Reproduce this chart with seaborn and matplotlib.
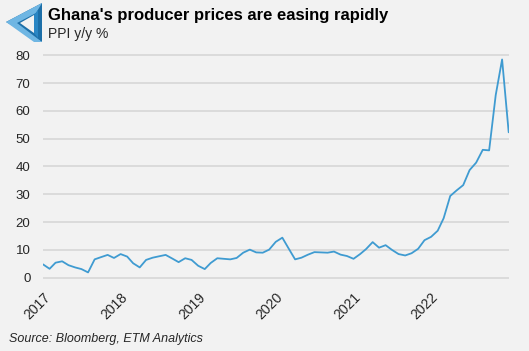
import matplotlib.pyplot as plt
import matplotlib.patches as mpatches
import pandas as pd
import seaborn as sns

# Inputs
TITLE = "Ghana's producer prices are easing rapidly"
SUBTITLE = "PPI y/y %"
SOURCE = "Source: Bloomberg, ETM Analytics"
START_MONTH = "2017-01-01"
PPI_YY = [4.8, 3.2, 5.4, 5.9, 4.5, 3.7, 3.1, 1.9, 6.6, 7.4, 8.2, 7.1,
          8.5, 7.6, 5.2, 3.7, 6.4, 7.2, 7.7, 8.2, 6.9, 5.6, 7.0, 6.4,
          4.3, 3.1, 5.3, 7.0, 6.8, 6.6, 7.1, 9.0, 10.1, 9.1, 9.0, 10.1,
          12.9, 14.4, 10.6, 6.6, 7.2, 8.3, 9.2, 9.1, 9.0, 9.4, 8.3, 7.8,
          6.8, 8.5, 10.3, 12.8, 10.8, 11.7, 10.0, 8.5, 8.0, 8.8, 10.4, 13.5,
          14.7, 16.9, 21.4, 29.4, 31.4, 33.3, 38.7, 41.4, 46.0, 45.8, 65.7, 78.5,
          52.3]
Y_TICKS = [0, 10, 20, 30, 40, 50, 60, 70, 80]
YEAR_TICKS = ["2017", "2018", "2019", "2020", "2021", "2022"]
# Outputs
PATH_PLOT = "out.png"

BG = "#f2f2f2"
LINE_COLOR = "#3f9bd1"
TEXT_COLOR = "#262626"


def draw_logo(fig):
    # rough impossible-triangle logo, in pixel coords of the 529x351 figure
    def pts(seq):
        return [(x / 529, 1 - y / 351) for x, y in seq]
    outer = pts([(6, 22), (42, 3), (42, 42)])
    fig.patches.append(mpatches.Polygon(outer, closed=True, transform=fig.transFigure,
                                        facecolor="#1d6fa8", edgecolor="none"))
    band = pts([(6, 22), (42, 3), (36, 13), (17, 23), (42, 42), (34, 42)])
    fig.patches.append(mpatches.Polygon(band, closed=True, transform=fig.transFigure,
                                        facecolor="#6fb6e3", edgecolor="none"))
    inner = pts([(20, 23), (34, 15), (34, 33)])
    fig.patches.append(mpatches.Polygon(inner, closed=True, transform=fig.transFigure,
                                        facecolor=BG, edgecolor="none"))
    edge = pts([(34, 15), (38, 10), (38, 38), (34, 33)])
    fig.patches.append(mpatches.Polygon(edge, closed=True, transform=fig.transFigure,
                                        facecolor="#2a86c4", edgecolor="none"))


def main():
    months = pd.date_range(START_MONTH, periods=len(PPI_YY), freq="MS")
    df = pd.DataFrame({"month": months, "ppi": PPI_YY})

    sns.set_theme(style="white")
    plt.rcParams["font.family"] = ["Liberation Sans", "DejaVu Sans"]

    fig = plt.figure(figsize=(5.29, 3.51), dpi=100, facecolor=BG)
    ax = fig.add_axes([0.0813, 0.2009, 0.9616 - 0.0813, 0.8504 - 0.2009])
    ax.set_facecolor(BG)

    sns.lineplot(data=df, x="month", y="ppi", ax=ax, color=LINE_COLOR, linewidth=1.3)

    ax.set_xlim(months[0], months[-1])
    ax.set_ylim(-1, 81)
    ax.set_yticks(Y_TICKS)
    ax.set_yticklabels([str(v) for v in Y_TICKS], fontsize=9.5, color=TEXT_COLOR)
    year_pos = [pd.Timestamp(y + "-01-01") for y in YEAR_TICKS]
    ax.set_xticks(year_pos)
    ax.set_xticklabels(YEAR_TICKS, rotation=45, ha="right", rotation_mode="anchor",
                       fontsize=10, color=TEXT_COLOR)
    ax.tick_params(axis="both", length=0)
    ax.tick_params(axis="y", pad=9)
    ax.tick_params(axis="x", pad=7)
    ax.set_xlabel("")
    ax.set_ylabel("")
    ax.grid(axis="y", color="#d9d9d9", linewidth=1.3)
    ax.grid(axis="x", visible=False)
    ax.set_axisbelow(True)
    sns.despine(ax=ax, left=True, bottom=True)

    draw_logo(fig)
    fig.text(48 / 529, 1 - 20 / 351, TITLE, fontsize=12, fontweight="bold",
             color="black", va="baseline")
    fig.text(48 / 529, 1 - 38 / 351, SUBTITLE, fontsize=10, color=TEXT_COLOR,
             va="baseline")
    fig.text(9 / 529, 1 - 342 / 351, SOURCE, fontsize=9, style="italic",
             color=TEXT_COLOR, va="baseline")

    fig.savefig(PATH_PLOT, dpi=100, facecolor=BG)


if __name__ == '__main__':
    main()
